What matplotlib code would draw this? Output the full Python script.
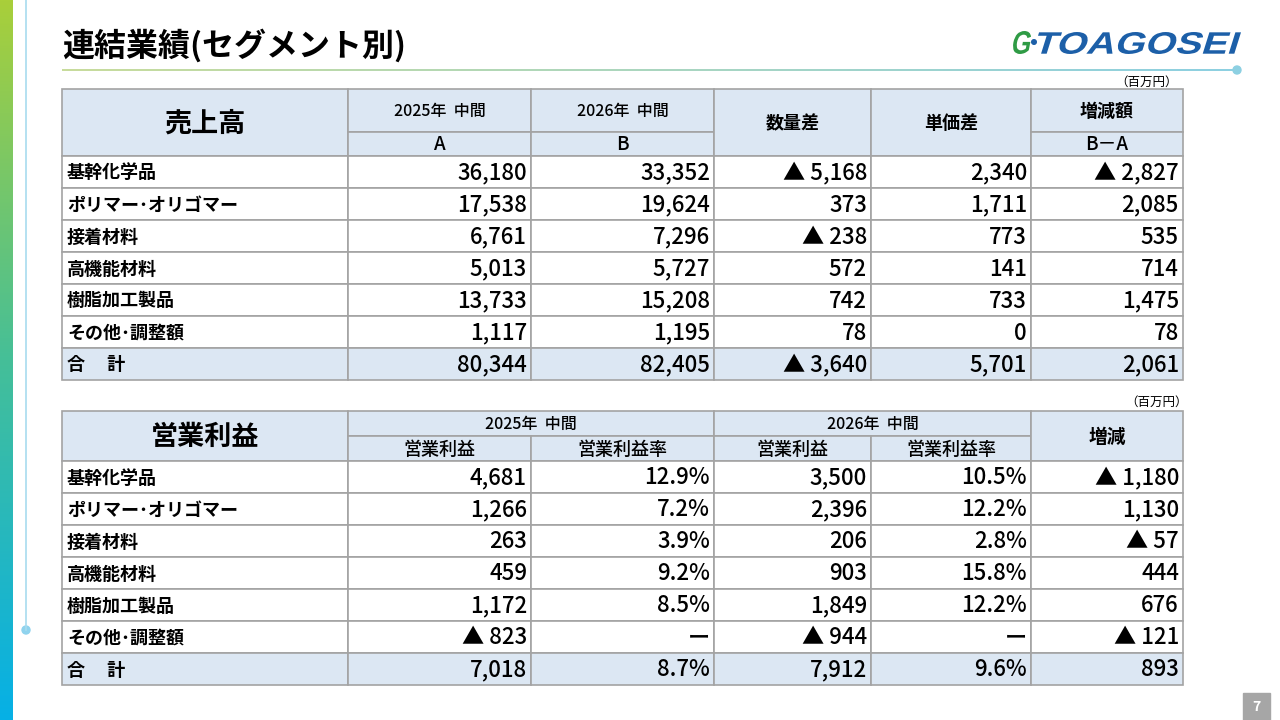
import matplotlib.pyplot as plt
import numpy as np
from matplotlib.patches import Rectangle, Circle, PathPatch
from matplotlib.colors import LinearSegmentedColormap
from matplotlib.textpath import TextPath
from matplotlib.font_manager import FontProperties
from matplotlib.transforms import Affine2D

plt.rcParams['font.family'] = ['Noto Sans CJK JP', 'DejaVu Sans']

title = '連結業績(セグメント別)'
unit = '（百万円）'
segments = ['基幹化学品', 'ポリマー･オリゴマー', '接着材料', '高機能材料',
            '樹脂加工製品', 'その他･調整額', '合\u3000 計']

# 売上高
sales_2025 = [36180, 17538, 6761, 5013, 13733, 1117, 80344]
sales_2026 = [33352, 19624, 7296, 5727, 15208, 1195, 82405]
volume_diff = [-5168, 373, -238, 572, 742, 78, -3640]
price_diff = [2340, 1711, 773, 141, 733, 0, 5701]
sales_change = [-2827, 2085, 535, 714, 1475, 78, 2061]

# 営業利益
op_2025 = [4681, 1266, 263, 459, 1172, -823, 7018]
margin_2025 = [12.9, 7.2, 3.9, 9.2, 8.5, None, 8.7]
op_2026 = [3500, 2396, 206, 903, 1849, -944, 7912]
margin_2026 = [10.5, 12.2, 2.8, 15.8, 12.2, None, 9.6]
op_change = [-1180, 1130, -57, 444, 676, -121, 893]

HEAD = '#dce7f3'
GRID = '#a3a3a3'
col_x = [62, 348, 531, 714, 871, 1031, 1183]
row_h = 32


def fmt(v):
    return '▲ ' + f'{-v:,}' if v < 0 else f'{v:,}'


def fmt_pct(v):
    return 'ー' if v is None else f'{v:.1f}%'


fig = plt.figure(figsize=(12.8, 7.2), dpi=100)
ax = fig.add_axes([0, 0, 1, 1])

# left gradient bar
cmap = LinearSegmentedColormap.from_list('bar', ['#a9cf3a', '#45bf98', '#06b0e6'])
ax.imshow(np.linspace(0, 1, 256).reshape(-1, 1), cmap=cmap, aspect='auto',
          extent=[0, 13, 720, 0])
ax.plot([26, 26], [0, 630], color='#a8dcef', lw=1.2)
ax.add_patch(Circle((26, 630), 4, color='#8fd3ee'))

# title + underline
ax.text(62, 46, title, fontsize=23, fontweight='bold', va='center', ha='left')
cmap2 = LinearSegmentedColormap.from_list('line', ['#c8dc9c', '#8dd0e2'])
ax.imshow(np.linspace(0, 1, 256).reshape(1, -1), cmap=cmap2, aspect='auto',
          extent=[62, 1237, 71, 69])
ax.add_patch(Circle((1237, 70), 4, color='#8dd0e2'))


# logo: slanted text paths stretched into a box
def logo_text(s, x0, x1, top, bottom, color):
    fp = FontProperties(family='Liberation Sans', weight='bold')
    tp = TextPath((0, 0), s, size=1, prop=fp)
    tp = Affine2D().skew_deg(14, 0).transform_path(tp)
    ext = tp.get_extents()
    sx = (x1 - x0) / ext.width
    sy = (bottom - top) / ext.height
    tr = Affine2D().translate(-ext.x0, -ext.y0).scale(sx, -sy).translate(x0, bottom)
    ax.add_patch(PathPatch(tr.transform_path(tp), color=color, lw=0))


logo_text('G', 1013, 1031, 31, 54, '#2f9b45')
ax.add_patch(Circle((1034, 42), 2.3, color='#1c5fa8'))
logo_text('TOAGOSEI', 1038, 1241, 32, 54, '#1c5fa8')


def cell(x0, x1, y0, y1, fill='white'):
    ax.add_patch(Rectangle((x0, y0), x1 - x0, y1 - y0, facecolor=fill,
                           edgecolor=GRID, lw=1.2))


def ctext(x0, x1, y0, y1, s, size=11.5, weight='medium'):
    ax.text((x0 + x1) / 2, (y0 + y1) / 2 + 1, s, fontsize=size, fontweight=weight,
            ha='center', va='center')


def body(top, columns):
    for i, label in enumerate(segments):
        y0 = top + i * row_h
        y1 = y0 + row_h
        fill = HEAD if i == len(segments) - 1 else 'white'
        for c in range(6):
            cell(col_x[c], col_x[c + 1], y0, y1, fill)
        ax.text(col_x[0] + 5, (y0 + y1) / 2 + 1, label, fontsize=13,
                fontweight='bold', ha='left', va='center')
        for c, vals in enumerate(columns):
            ax.text(col_x[c + 2] - 4, (y0 + y1) / 2 + 1, vals[i], fontsize=16,
                    fontweight='medium', ha='right', va='center')


# ---- table 1: 売上高
t, m, b = 89, 132, 156
ax.text(1178, 82, unit, fontsize=9, ha='right', va='center')
cell(col_x[0], col_x[1], t, b, HEAD)
ctext(col_x[0], col_x[1], t, b, '売上高', size=19.5, weight='bold')
for c, (yr, lab) in enumerate([('2025年  中間', 'A'), ('2026年  中間', 'B')]):
    cell(col_x[c + 1], col_x[c + 2], t, m, HEAD)
    cell(col_x[c + 1], col_x[c + 2], m, b, HEAD)
    ctext(col_x[c + 1], col_x[c + 2], t, m, yr)
    ctext(col_x[c + 1], col_x[c + 2], m, b, lab, size=13.5)
cell(col_x[3], col_x[4], t, b, HEAD)
ctext(col_x[3], col_x[4], t, b, '数量差', size=13, weight='bold')
cell(col_x[4], col_x[5], t, b, HEAD)
ctext(col_x[4], col_x[5], t, b, '単価差', size=13, weight='bold')
cell(col_x[5], col_x[6], t, m, HEAD)
cell(col_x[5], col_x[6], m, b, HEAD)
ctext(col_x[5], col_x[6], t, m, '増減額', size=13, weight='bold')
ctext(col_x[5], col_x[6], m, b, 'B－A', size=13.5)
body(b, [[fmt(v) for v in sales_2025], [fmt(v) for v in sales_2026],
         [fmt(v) for v in volume_diff], [fmt(v) for v in price_diff],
         [fmt(v) for v in sales_change]])

# ---- table 2: 営業利益
t, m, b = 411, 436, 461
ax.text(1188, 402, unit, fontsize=9, ha='right', va='center')
cell(col_x[0], col_x[1], t, b, HEAD)
ctext(col_x[0], col_x[1], t, b, '営業利益', size=19.5, weight='bold')
for k, yr in enumerate(['2025年  中間', '2026年  中間']):
    c = 1 + 2 * k
    cell(col_x[c], col_x[c + 2], t, m, HEAD)
    ctext(col_x[c], col_x[c + 2], t, m, yr)
    cell(col_x[c], col_x[c + 1], m, b, HEAD)
    cell(col_x[c + 1], col_x[c + 2], m, b, HEAD)
    ctext(col_x[c], col_x[c + 1], m, b, '営業利益', size=13)
    ctext(col_x[c + 1], col_x[c + 2], m, b, '営業利益率', size=13)
cell(col_x[5], col_x[6], t, b, HEAD)
ctext(col_x[5], col_x[6], t, b, '増減', size=13.5, weight='bold')
body(b, [[fmt(v) for v in op_2025], [fmt_pct(v) for v in margin_2025],
         [fmt(v) for v in op_2026], [fmt_pct(v) for v in margin_2026],
         [fmt(v) for v in op_change]])

# page number
ax.add_patch(Rectangle((1243, 693), 27, 27, color='#a6a6a6'))
ax.text(1256.5, 707, '7', fontsize=10, fontweight='bold', color='white',
        ha='center', va='center')

ax.set_xlim(0, 1280)
ax.set_ylim(720, 0)
ax.axis('off')
fig.savefig('out.png', dpi=100)
